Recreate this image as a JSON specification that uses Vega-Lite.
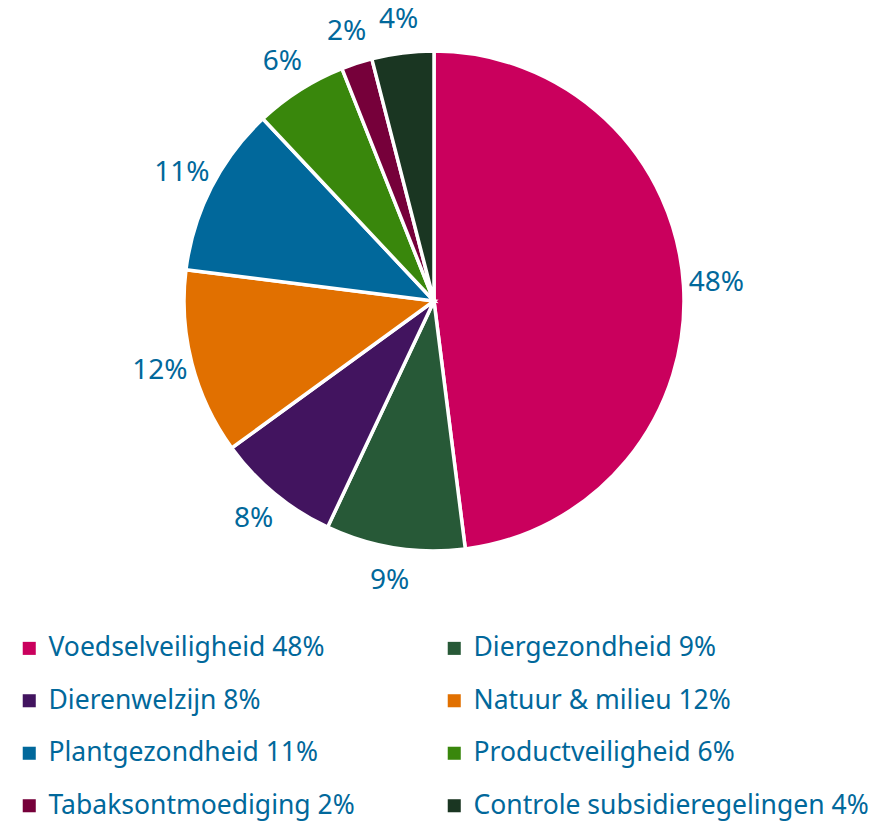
{
  "$schema": "https://vega.github.io/schema/vega-lite/v6.json",
  "width": 868,
  "height": 602,
  "autosize": {"type": "none"},
  "padding": {"left": 0, "top": 0, "right": 15, "bottom": 222},
  "background": "white",
  "config": {"view": {"stroke": null}, "font": "Noto Sans"},
  "data": {"values": [
    {"cat": "Voedselveiligheid 48%", "v": 48, "lbl": "48%", "o": 1},
    {"cat": "Diergezondheid 9%", "v": 9, "lbl": "9%", "o": 2},
    {"cat": "Dierenwelzijn 8%", "v": 8, "lbl": "8%", "o": 3},
    {"cat": "Natuur & milieu 12%", "v": 12, "lbl": "12%", "o": 4},
    {"cat": "Plantgezondheid 11%", "v": 11, "lbl": "11%", "o": 5},
    {"cat": "Productveiligheid 6%", "v": 6, "lbl": "6%", "o": 6},
    {"cat": "Tabaksontmoediging 2%", "v": 2, "lbl": "2%", "o": 7},
    {"cat": "Controle subsidieregelingen 4%", "v": 4, "lbl": "4%", "o": 8}
  ]},
  "encoding": {
    "theta": {"field": "v", "type": "quantitative", "stack": true},
    "order": {"field": "o", "type": "quantitative"}
  },
  "layer": [
    {
      "mark": {"type": "arc", "outerRadius": 250, "stroke": "white", "strokeWidth": 3.5},
      "encoding": {
        "color": {
          "field": "cat", "type": "nominal",
          "sort": ["Voedselveiligheid 48%", "Diergezondheid 9%", "Dierenwelzijn 8%", "Natuur & milieu 12%", "Plantgezondheid 11%", "Productveiligheid 6%", "Tabaksontmoediging 2%", "Controle subsidieregelingen 4%"],
          "scale": {
            "domain": ["Voedselveiligheid 48%", "Diergezondheid 9%", "Dierenwelzijn 8%", "Natuur & milieu 12%", "Plantgezondheid 11%", "Productveiligheid 6%", "Tabaksontmoediging 2%", "Controle subsidieregelingen 4%"],
            "range": ["#ca005d", "#275937", "#42145f", "#e17000", "#01689b", "#39870c", "#76003a", "#1a3622"]
          },
          "legend": {
            "title": null,
            "orient": "none",
            "legendX": 16,
            "legendY": 635,
            "direction": "horizontal",
            "columns": 2,
            "symbolType": "square",
            "symbolSize": 170,
            "symbolStrokeWidth": 0,
            "labelFontSize": 26.5,
            "labelColor": "#01689b",
            "labelFont": "Noto Sans",
            "labelOffset": 6,
            "rowPadding": 25.5,
            "columnPadding": 86,
            "padding": 0,
            "labelLimit": 500
          }
        }
      }
    },
    {
      "mark": {"type": "text", "radius": 283, "fontSize": 28, "color": "#01689b", "align": "center", "baseline": "middle"},
      "encoding": {
        "text": {"field": "lbl", "type": "nominal"}
      }
    }
  ]
}
